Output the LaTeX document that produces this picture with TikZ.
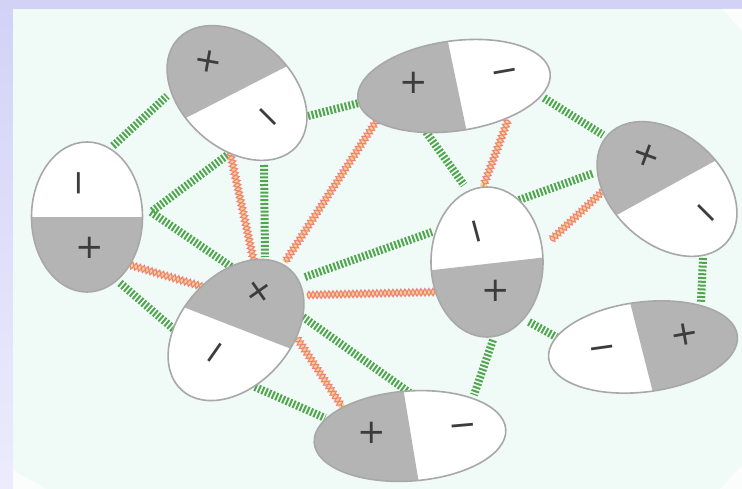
\documentclass[tikz,border=0pt]{standalone}
\usepackage{fontspec}
\newfontfamily\signfont{DejaVu Sans}
\usetikzlibrary{shapes.geometric,decorations.pathmorphing}
\definecolor{lavA}{RGB}{210,210,247}
\definecolor{lavB}{RGB}{236,236,253}
\definecolor{mint}{RGB}{240,250,246}
\definecolor{cornerwhite}{RGB}{251,253,253}
\definecolor{shell}{RGB}{168,168,168}
\definecolor{halfgray}{RGB}{180,180,180}
\definecolor{bondgreen}{RGB}{80,165,78}
\definecolor{bondred}{RGB}{235,128,140}
\definecolor{bondyellow}{RGB}{250,212,118}
\definecolor{signcol}{RGB}{60,60,60}
\newcommand{\dipolefill}[5]{%
  \fill[white, shift={#1}, rotate=#4] (0,0) ellipse [x radius=#2, y radius=#3];
  \begin{scope}
    \clip[shift={#1}, rotate=#4] (0,0) ellipse [x radius=#2, y radius=#3];
    \fill[halfgray] #5;
  \end{scope}}
\tikzset{
  dipole/.style={ellipse, draw=shell, line width=1.6pt, inner sep=0pt, outer sep=0pt},
  sign/.style={font=\signfont\fontsize{34}{34}\selectfont, text=signcol, inner sep=0pt,
    text height=0.71em, text depth=0pt},
  hbond/.style={draw=bondgreen, line width=8pt, dash pattern=on 2pt off 1.8pt},
  ionbond/.style={draw=bondyellow, line width=6pt,
    postaction={draw=bondred, line width=1pt, decorate,
      decoration={zigzag, amplitude=3.8pt, segment length=8pt}},
    postaction={draw=bondred, line width=1pt, decorate,
      decoration={zigzag, amplitude=3.8pt, segment length=8pt, mirror}}}
}
\begin{document}
\begin{tikzpicture}[x=1pt,y=-1pt]
\useasboundingbox (0,0) rectangle (742,489);
% frame and background
\shade[top color=lavA, bottom color=lavB] (0,0) rectangle (742,489);
\fill[mint] (13,9) rectangle (742,489);
\fill[cornerwhite] (722,9) -- (742,9) -- (742,31) -- cycle;
\fill[cornerwhite] (13,470) -- (13,489) -- (46,489) -- cycle;
\fill[cornerwhite] (742,465) -- (742,489) -- (720,489) -- cycle;

% bond end points
\coordinate (g1a) at (113,146); \coordinate (g1b) at (167,96);
\coordinate (g2a) at (308,116); \coordinate (g2b) at (363,102);
\coordinate (g3a) at (230,153); \coordinate (g3b) at (151,212);
\coordinate (g4a) at (151,212); \coordinate (g4b) at (233,268);
\coordinate (g5a) at (264,165); \coordinate (g5b) at (265,257);
\coordinate (g6a) at (120,283); \coordinate (g6b) at (177,332);
\coordinate (g7a) at (426,132); \coordinate (g7b) at (464,185);
\coordinate (g8a) at (544,98);  \coordinate (g8b) at (603,135);
\coordinate (g9a) at (519,200); \coordinate (g9b) at (594,173);
\coordinate (g10a) at (305,277); \coordinate (g10b) at (432,232);
\coordinate (g11a) at (303,317); \coordinate (g11b) at (410,393);
\coordinate (g12a) at (255,387); \coordinate (g12b) at (325,418);
\coordinate (g13a) at (493,340); \coordinate (g13b) at (474,395);
\coordinate (g14a) at (529,322); \coordinate (g14b) at (558,338);
\coordinate (g15a) at (703,258); \coordinate (g15b) at (701,302);
\coordinate (r1a) at (230,152); \coordinate (r1b) at (254,262);
\coordinate (r2a) at (377,120); \coordinate (r2b) at (285,262);
\coordinate (r3a) at (130,265); \coordinate (r3b) at (207,288);
\coordinate (r4a) at (307,295); \coordinate (r4b) at (436,292);
\coordinate (r5a) at (297,338); \coordinate (r5b) at (343,408);
\coordinate (r6a) at (508,120); \coordinate (r6b) at (483,187);
\coordinate (r7a) at (551,240); \coordinate (r7b) at (604,190);

% hydrogen-type bonds (green)
\foreach \i in {1,...,15} \draw[hbond] (g\i a) -- (g\i b);
% ionic-type bonds (red/yellow)
\foreach \i in {1,...,7} \draw[ionbond] (r\i a) -- (r\i b);

% dipoles
\dipolefill{(237,93)}{80}{55}{-42}{(137,143) -- (338,40) -- (338,0) -- (137,0) -- cycle}
\node[dipole, minimum width=160, minimum height=110, rotate=-42] (e1) at (237,93) {};
\dipolefill{(87,217)}{55.5}{75}{0}{(20,217) -- (160,217) -- (160,300) -- (20,300) -- cycle}
\node[dipole, minimum width=111, minimum height=150] (e2) at (87,217) {};
\dipolefill{(454,86)}{97}{45}{8}{(439,-1) -- (475,171) -- (340,171) -- (340,-1) -- cycle}
\node[dipole, minimum width=194, minimum height=90, rotate=8] (e3) at (454,86) {};
\dipolefill{(667,189)}{80}{55}{-42}{(566,243) -- (751,141) -- (751,100) -- (566,100) -- cycle}
\node[dipole, minimum width=160, minimum height=110, rotate=-42] (e4) at (667,189) {};
\dipolefill{(487,262)}{56}{75}{0}{(420,271.5) -- (560,255.6) -- (560,350) -- (420,350) -- cycle}
\node[dipole, minimum width=112, minimum height=150] (e5) at (487,262) {};
\dipolefill{(643,347)}{95}{45}{7}{(621,267) -- (663,432) -- (760,432) -- (760,267) -- cycle}
\node[dipole, minimum width=190, minimum height=90, rotate=7] (e6) at (643,347) {};
\dipolefill{(410,436)}{96}{45}{4}{(397,351) -- (425,520) -- (300,520) -- (300,351) -- cycle}
\node[dipole, minimum width=192, minimum height=90, rotate=4] (e7) at (410,436) {};
\dipolefill{(236,330)}{81}{55}{48}{(137,289) -- (330,364) -- (330,240) -- (137,240) -- cycle}
\node[dipole, minimum width=162, minimum height=110, rotate=48] (e8) at (236,330) {};

% charges
\node[sign, rotate=-10] (p1) at (207,68) {+};
\node[sign, rotate=-45] (m1) at (263,122) {−};
\node[sign, rotate=90] (m2) at (86,183) {−};
\node[sign] (p2) at (90,255) {+};
\node[sign] (p3) at (414,90) {+};
\node[sign, rotate=10] (m3) at (506,79) {−};
\node[sign, rotate=-20] (p4) at (644,162) {+};
\node[sign, rotate=-45] (m4) at (701,218) {−};
\node[sign, rotate=105] (m5) at (483,230) {−};
\node[sign] (p5) at (496,298) {+};
\node[sign, rotate=8] (m6) at (603,355) {−};
\node[sign, rotate=10] (p6) at (686,342) {+};
\node[sign] (p7) at (372,440) {+};
\node[sign, rotate=5] (m7) at (463,433) {−};
\node[sign, rotate=35] (p8) at (263,297) {+};
\node[sign, rotate=55] (m8) at (221,357) {−};
\end{tikzpicture}
\end{document}
